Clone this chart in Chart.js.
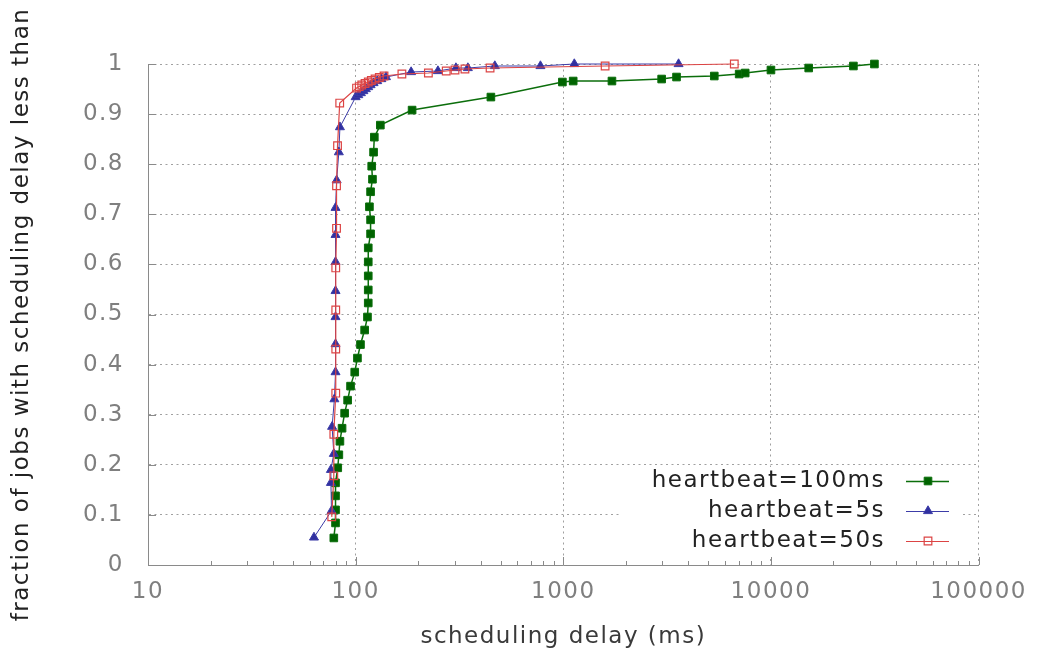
<!DOCTYPE html>
<html lang="en">
<head>
    <meta charset="UTF-8">
    <title>Scheduling delay CDF</title>
    <script src="https://cdn.jsdelivr.net/npm/chart.js@4.4.1/dist/chart.umd.min.js"></script>
    <style>
        html, body { margin: 0; padding: 0; background: #fff; }
        #wrap { width: 1040px; height: 660px; }
    </style>
</head>
<body>
    <div id="wrap"><canvas id="myChart" width="1040" height="660"></canvas></div>
    <script>
    // tick labels
    var xTickValues = [10, 100, 1000, 10000, 100000]
    var xTickLabels = ['10', '100', '1000', '10000', '100000']
    var yTickValues = [0, 0.1, 0.2, 0.3, 0.4, 0.5, 0.6, 0.7, 0.8, 0.9, 1]
    var yTickLabels = ['0', '0.1', '0.2', '0.3', '0.4', '0.5', '0.6', '0.7', '0.8', '0.9', '1']

    var seriesNames = ['heartbeat=100ms', 'heartbeat=5s', 'heartbeat=50s']

    // heartbeat=100ms
    var hb100msDelay = [78.5, 80, 80, 80, 80, 82, 83, 84, 86, 88.5, 91.5, 94.5, 99, 102, 105.5, 110.5, 114, 115, 115, 115, 115, 115, 118, 118, 116.5, 118, 120.5, 119.5, 122, 123, 131.5, 187, 448, 990, 1116, 1715, 2976, 3510, 5335, 7030, 7516, 10000, 15200, 24950, 31500]
    var hb100msFrac = [0.054, 0.084, 0.11, 0.138, 0.164, 0.194, 0.22, 0.247, 0.273, 0.303, 0.329, 0.357, 0.385, 0.413, 0.44, 0.469, 0.495, 0.523, 0.549, 0.577, 0.605, 0.633, 0.661, 0.689, 0.715, 0.745, 0.77, 0.796, 0.824, 0.854, 0.878, 0.908, 0.934, 0.964, 0.966, 0.966, 0.97, 0.974, 0.976, 0.98, 0.982, 0.988, 0.992, 0.996, 1.0]

    // heartbeat=5s
    var hb5sDelay = [63, 76.5, 76, 76, 78.5, 77, 79, 80, 80, 80, 80, 80, 80, 80, 81, 83, 84, 100, 103, 106, 109, 112, 115, 118, 122, 127, 133, 140, 185, 249, 304, 347, 468, 776, 1130, 3590]
    var hb5sFrac = [0.055, 0.108, 0.164, 0.19, 0.222, 0.276, 0.331, 0.385, 0.441, 0.495, 0.547, 0.605, 0.659, 0.713, 0.768, 0.824, 0.874, 0.934, 0.938, 0.942, 0.946, 0.95, 0.954, 0.958, 0.962, 0.966, 0.97, 0.974, 0.984, 0.986, 0.992, 0.992, 0.996, 0.996, 1.0, 1.0]

    // heartbeat=50s
    var hb50sDelay = [76.7, 78.5, 78.5, 80.2, 80.2, 80.2, 80.2, 80.9, 80.9, 81.8, 83.8, 101, 104, 107, 111, 115, 119, 124, 130, 137, 167, 224, 273, 301, 336, 444, 1590, 6660]
    var hb50sFrac = [0.096, 0.178, 0.261, 0.343, 0.431, 0.509, 0.593, 0.672, 0.757, 0.837, 0.922, 0.952, 0.955, 0.958, 0.961, 0.964, 0.967, 0.97, 0.973, 0.976, 0.98, 0.982, 0.986, 0.988, 0.99, 0.992, 0.996, 1.0]

    function toPoints(xs, ys) {
        return xs.map(function (x, i) { return { x: x, y: ys[i] } })
    }

    var FONT = 'DejaVu Sans'
    var SPACING = '1.5px'

    // gnuplot style letter spacing on the canvas
    var spacing = {
        id: 'spacing',
        beforeUpdate: function (chart) { chart.ctx.letterSpacing = SPACING },
        beforeDraw: function (chart) { chart.ctx.letterSpacing = SPACING }
    }

    // inward tick marks on the left and bottom axes
    var axisTicks = {
        id: 'axisTicks',
        beforeDatasetsDraw: function (chart) {
            var ctx = chart.ctx, area = chart.chartArea, sx = chart.scales.x, sy = chart.scales.y
            ctx.save()
            ctx.strokeStyle = '#8a8a8a'
            ctx.lineWidth = 1
            ctx.setLineDash([])
            ctx.beginPath()
            yTickValues.forEach(function (v) {
                var y = Math.round(sy.getPixelForValue(v)) + 0.5
                ctx.moveTo(area.left, y)
                ctx.lineTo(area.left + 8, y)
            })
            xTickValues.forEach(function (d, i) {
                var x = Math.round(sx.getPixelForValue(d)) + 0.5
                ctx.moveTo(x, area.bottom)
                ctx.lineTo(x, area.bottom - 8)
                if (i < xTickValues.length - 1) {
                    for (var m = 2; m < 10; m++) {
                        var xm = Math.round(sx.getPixelForValue(d * m)) + 0.5
                        ctx.moveTo(xm, area.bottom)
                        ctx.lineTo(xm, area.bottom - 4)
                    }
                }
            })
            ctx.stroke()
            ctx.restore()
        }
    }

    // key in the lower right, opaque like gnuplot's
    var keyBox = {
        id: 'keyBox',
        afterDraw: function (chart) {
            var ctx = chart.ctx
            var rows = [481, 511, 541]
            ctx.save()
            ctx.fillStyle = '#fff'
            ctx.fillRect(620, 467, 342, 89)
            ctx.font = '23px "' + FONT + '"'
            ctx.letterSpacing = SPACING
            ctx.textAlign = 'right'
            ctx.textBaseline = 'middle'
            seriesNames.forEach(function (name, i) {
                var ds = chart.data.datasets[i]
                var y = rows[i]
                ctx.fillStyle = '#222'
                ctx.fillText(name, 885, y)
                ctx.setLineDash([])
                ctx.strokeStyle = ds.borderColor
                ctx.lineWidth = ds.borderWidth
                ctx.beginPath()
                ctx.moveTo(906, y + 0.5)
                ctx.lineTo(949, y + 0.5)
                ctx.stroke()
                ctx.fillStyle = ds.pointBackgroundColor
                ctx.strokeStyle = ds.pointBorderColor
                ctx.lineWidth = ds.pointBorderWidth
                ctx.beginPath()
                if (ds.pointStyle === 'rect') {
                    var s = ds.pointRadius * Math.SQRT1_2
                    ctx.rect(928 - s, y - s, 2 * s, 2 * s)
                } else {
                    var r = ds.pointRadius
                    ctx.moveTo(928, y - r)
                    ctx.lineTo(928 + r * 0.866, y + r * 0.5)
                    ctx.lineTo(928 - r * 0.866, y + r * 0.5)
                    ctx.closePath()
                }
                ctx.fill()
                ctx.stroke()
            })
            ctx.restore()
        }
    }

    window.onload = function () {
        var ctx = document.getElementById('myChart').getContext('2d')
        var chart = new Chart(ctx, {
            type: 'line',
            data: {
                datasets: [{
                    label: seriesNames[0],
                    data: toPoints(hb100msDelay, hb100msFrac),
                    borderColor: '#0b6e0b',
                    borderWidth: 1.5,
                    pointStyle: 'rect',
                    pointRadius: 5.4,
                    pointBackgroundColor: '#006400',
                    pointBorderColor: '#0b6e0b',
                    pointBorderWidth: 1,
                    order: 2
                }, {
                    label: seriesNames[1],
                    data: toPoints(hb5sDelay, hb5sFrac),
                    borderColor: '#3c3ca8',
                    borderWidth: 1,
                    pointStyle: 'triangle',
                    pointRadius: 5.2,
                    pointBackgroundColor: '#3030a0',
                    pointBorderColor: '#3c3ca8',
                    pointBorderWidth: 1,
                    order: 1
                }, {
                    label: seriesNames[2],
                    data: toPoints(hb50sDelay, hb50sFrac),
                    borderColor: '#dc4444',
                    borderWidth: 1.2,
                    pointStyle: 'rect',
                    pointRadius: 5.4,
                    pointBackgroundColor: 'rgba(255,255,255,0)',
                    pointBorderColor: '#dc4444',
                    pointBorderWidth: 1.2,
                    order: 0
                }]
            },
            options: {
                responsive: false,
                animation: false,
                clip: false,
                layout: { padding: { left: 0, right: 56, top: 64, bottom: 0 } },
                plugins: {
                    legend: { display: false },
                    tooltip: { enabled: false }
                },
                elements: { line: { tension: 0 } },
                scales: {
                    x: {
                        type: 'logarithmic',
                        min: 10,
                        max: 100000,
                        afterBuildTicks: function (scale) {
                            scale.ticks = xTickValues.map(function (v) { return { value: v, major: true } })
                        },
                        afterFit: function (scale) { scale.height = 95 },
                        ticks: {
                            autoSkip: false,
                            maxRotation: 0,
                            padding: 13,
                            color: '#7f7f7f',
                            font: { family: FONT, size: 23 },
                            callback: function (v, i) { return xTickLabels[i] }
                        },
                        grid: { color: '#a0a0a0', lineWidth: 1, drawTicks: false },
                        border: { display: true, color: '#8a8a8a', width: 1, dash: [2, 3.5] },
                        title: {
                            display: true,
                            text: 'scheduling delay (ms)',
                            color: '#3a3a3a',
                            font: { family: FONT, size: 23 },
                            padding: { top: 0, bottom: 9 }
                        }
                    },
                    y: {
                        type: 'linear',
                        min: 0,
                        max: 1,
                        afterBuildTicks: function (scale) {
                            scale.ticks = yTickValues.map(function (v) { return { value: v } })
                        },
                        afterFit: function (scale) { scale.width = 148 },
                        ticks: {
                            autoSkip: false,
                            padding: 24,
                            color: '#7f7f7f',
                            font: { family: FONT, size: 23 },
                            callback: function (v, i) { return yTickLabels[i] }
                        },
                        grid: { color: '#a0a0a0', lineWidth: 1, drawTicks: false },
                        border: { display: true, color: '#8a8a8a', width: 1, dash: [2, 3.5] },
                        title: {
                            display: true,
                            text: 'fraction of jobs with scheduling delay less than',
                            color: '#222',
                            font: { family: FONT, size: 23 },
                            padding: { top: 8, bottom: 0 }
                        }
                    }
                }
            },
            plugins: [spacing, axisTicks, keyBox]
        })
    }
    </script>
</body>
</html>
